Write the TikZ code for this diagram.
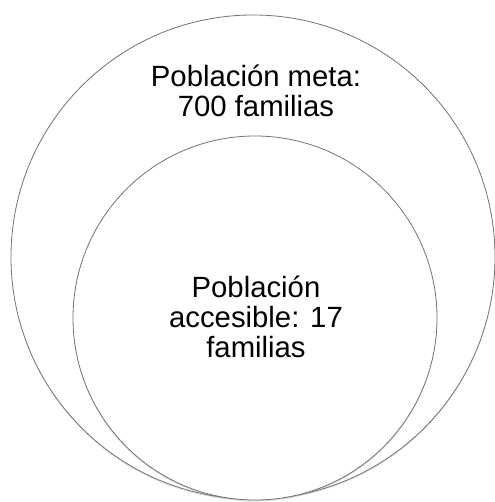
\documentclass[tikz,border=0pt]{standalone}
\usepackage{fontspec}
\setmainfont{Liberation Sans}
\usetikzlibrary{shadows}

\begin{document}
\begin{tikzpicture}[
    x=1pt, y=1pt,
    ring/.style={draw=black!55, line width=0.8pt, fill=white, circle, inner sep=0pt,
      drop shadow={opacity=0.25, shadow xshift=0pt, shadow yshift=-1.5pt}},
    lbl/.style={align=center, anchor=base, font=\fontsize{29.3}{30}\selectfont}
  ]
    \useasboundingbox (0,0) rectangle (494,502);
    \node[ring, minimum size=484pt] (meta) at (253,245) {};
    \node[ring, minimum size=364pt] (acc) at (255,184) {};

    \node[lbl] (tmeta) at (256,385) {Población meta:\\700 familias};
    \node[lbl] (tacc) at (256,144) {Población\\accesible: 17\\familias};
\end{tikzpicture}
\end{document}
